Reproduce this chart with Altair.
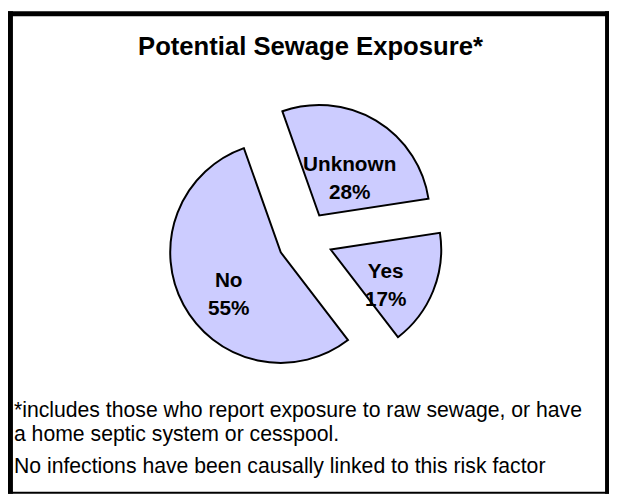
import altair as alt
import pandas as pd

# ---- data ----
categories = ["Unknown", "Yes", "No"]
values = [28, 17, 55]
title_text = "Potential Sewage Exposure*"
note_lines = [
    "*includes those who report exposure to raw sewage, or have",
    "a home septic system or cesspool.",
    "No infections have been causally linked to this risk factor",
]

# ---- layout ----
W, H = 609, 489
CX, CY = 301, 231
R = 112
EXPLODE = 28
LABEL_R = 60
START = -0.34  # radians, start angle of first slice
FONT = "Liberation Sans"

df = pd.DataFrame({"category": categories, "value": values, "order": list(range(len(values)))})

base = (
    alt.Chart(df)
    .transform_window(cum="sum(value)", sort=[alt.SortField("order")], frame=[None, 0])
    .transform_calculate(
        t1=f"{START} + 2*PI*datum.cum/100",
        t0=f"{START} + 2*PI*(datum.cum - datum.value)/100",
    )
    .transform_calculate(mid="(datum.t0 + datum.t1)/2")
    .transform_calculate(
        px=f"{CX} + {EXPLODE}*sin(datum.mid)",
        py=f"{CY} - {EXPLODE}*cos(datum.mid)",
        lx=f"{CX} + ({EXPLODE}+{LABEL_R})*sin(datum.mid)",
        ly=f"{CY} - ({EXPLODE}+{LABEL_R})*cos(datum.mid)",
        label="datum.category + '\\n' + datum.value + '%'",
    )
)

arcs = base.mark_arc(radius=R, fill="#CCCCFF", stroke="black", strokeWidth=2).encode(
    x=alt.X("px:Q", scale=None),
    y=alt.Y("py:Q", scale=None),
    theta=alt.Theta("t0:Q", scale=None, stack=None),
    theta2="t1:Q",
)

labels = base.mark_text(
    font=FONT, fontWeight="bold", fontSize=21, lineBreak="\n", lineHeight=29,
    align="center", baseline="middle", color="black",
).encode(
    x=alt.X("lx:Q", scale=None),
    y=alt.Y("ly:Q", scale=None),
    text="label:N",
)

title_df = pd.DataFrame({"t": [title_text]})
title = alt.Chart(title_df).mark_text(
    font=FONT, fontWeight="bold", fontSize=26, align="center", baseline="alphabetic", color="black"
).encode(x=alt.value(306.5), y=alt.value(44), text="t:N")

note_df = pd.DataFrame({"t": note_lines, "i": list(range(len(note_lines)))})
note_y = [411, 436, 468]
notes = alt.layer(*[
    alt.Chart(note_df).transform_filter(f"datum.i == {k}").mark_text(
        font=FONT, fontSize=21.5, align="left", baseline="alphabetic", color="black"
    ).encode(x=alt.value(6), y=alt.value(note_y[k]), text="t:N")
    for k in range(len(note_lines))
])

frame_left = alt.Chart(title_df).mark_rule(color="black", strokeWidth=5).encode(
    x=alt.value(2.5), y=alt.value(0), y2=alt.value(H))
frame_top = alt.Chart(title_df).mark_rule(color="black", strokeWidth=5).encode(
    y=alt.value(2.5), x=alt.value(0), x2=alt.value(W))
frame_right = alt.Chart(title_df).mark_rule(color="black", strokeWidth=4).encode(
    x=alt.value(W - 2), y=alt.value(0), y2=alt.value(H))
frame_bottom = alt.Chart(title_df).mark_rule(color="black", strokeWidth=2).encode(
    y=alt.value(H - 1), x=alt.value(0), x2=alt.value(W))

chart = alt.layer(
    arcs, labels, title, notes, frame_left, frame_top, frame_right, frame_bottom
).properties(
    width=W, height=H, autosize=alt.AutoSizeParams(type="none"), padding=0, background="white"
).configure_view(stroke=None)

chart.save("out.html", embed_options={"renderer": "svg", "actions": False})
